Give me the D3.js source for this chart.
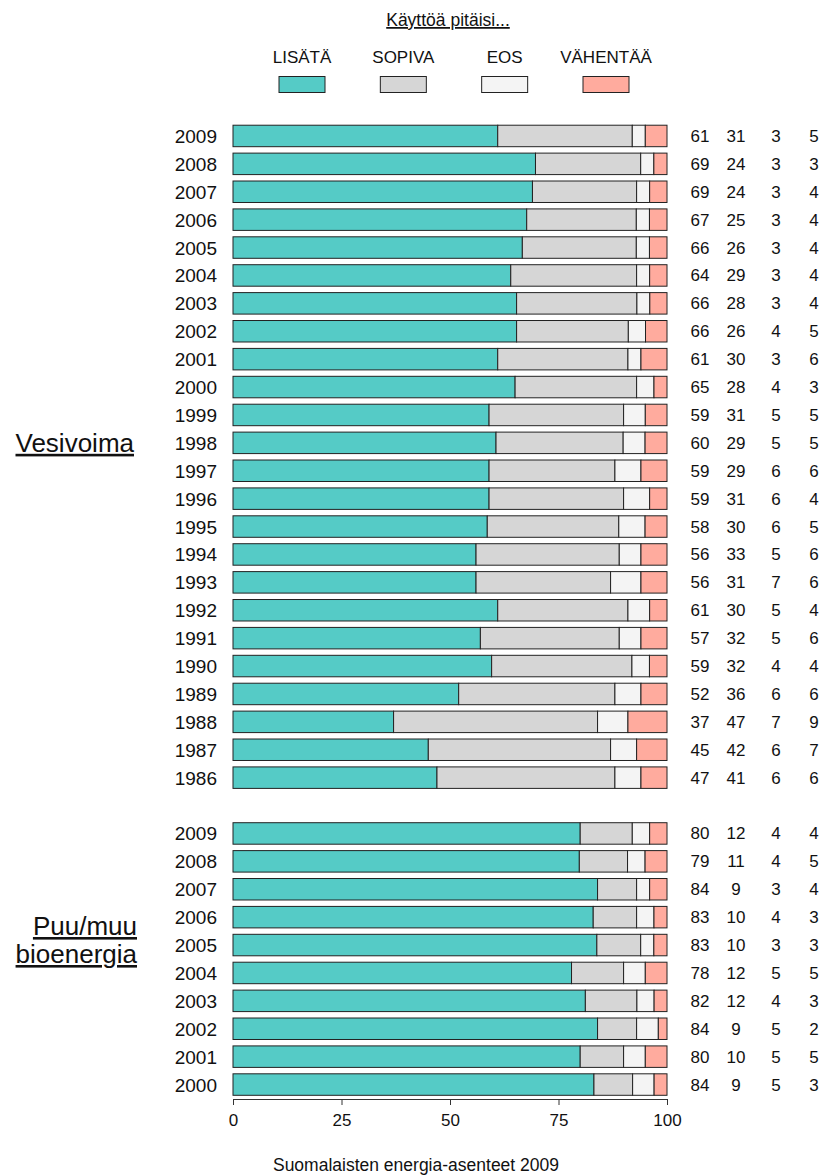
<!DOCTYPE html>
<html>
<head>
<meta charset="utf-8">
<script src="https://cdn.jsdelivr.net/npm/d3@7"></script>
<style>
  body { margin: 0; background: #fff; }
  svg text { font-family: "Liberation Sans", Arial, sans-serif; fill: #111; }
</style>
</head>
<body>
<svg id="chart" width="825" height="1175"></svg>
<script>
  // Käyttöä pitäisi... (LISÄTÄ, SOPIVA, EOS, VÄHENTÄÄ), %
  const series = ["LISÄTÄ", "SOPIVA", "EOS", "VÄHENTÄÄ"];
  const colors = ["#55cbc6", "#d6d6d6", "#f4f4f4", "#ffab9e"];

  const hydroYears = [2009, 2008, 2007, 2006, 2005, 2004, 2003, 2002, 2001, 2000, 1999, 1998,
    1997, 1996, 1995, 1994, 1993, 1992, 1991, 1990, 1989, 1988, 1987, 1986];
  const hydroLisata = [61, 69, 69, 67, 66, 64, 66, 66, 61, 65, 59, 60, 59, 59, 58, 56, 56, 61, 57, 59, 52, 37, 45, 47];
  const hydroSopiva = [31, 24, 24, 25, 26, 29, 28, 26, 30, 28, 31, 29, 29, 31, 30, 33, 31, 30, 32, 32, 36, 47, 42, 41];
  const hydroEos = [3, 3, 3, 3, 3, 3, 3, 4, 3, 4, 5, 5, 6, 6, 6, 5, 7, 5, 5, 4, 6, 7, 6, 6];
  const hydroVahentaa = [5, 3, 4, 4, 4, 4, 4, 5, 6, 3, 5, 5, 6, 4, 5, 6, 6, 4, 6, 4, 6, 9, 7, 6];

  const bioYears = [2009, 2008, 2007, 2006, 2005, 2004, 2003, 2002, 2001, 2000];
  const bioLisata = [80, 79, 84, 83, 83, 78, 82, 84, 80, 84];
  const bioSopiva = [12, 11, 9, 10, 10, 12, 12, 9, 10, 9];
  const bioEos = [4, 4, 3, 4, 3, 5, 4, 5, 5, 5];
  const bioVahentaa = [4, 5, 4, 3, 3, 5, 3, 2, 5, 3];

  const xTicks = [0, 25, 50, 75, 100];

  function rowsFor(prefix, years, cols) {
    return years.map((yr, i) => ({ key: prefix + yr, year: yr, vals: cols.map(c => c[i]) }));
  }
  const hydroRows = rowsFor("V", hydroYears, [hydroLisata, hydroSopiva, hydroEos, hydroVahentaa]);
  const bioRows = rowsFor("B", bioYears, [bioLisata, bioSopiva, bioEos, bioVahentaa]);
  const allRows = hydroRows.concat(bioRows);
  const domain = hydroRows.map(d => d.key).concat(["gap"], bioRows.map(d => d.key));

  const svg = d3.select("#chart");

  const x = d3.scaleLinear().domain([0, 100]).range([233, 667]);
  const y = d3.scaleBand().domain(domain).range([122, 1098.5])
    .paddingInner(0.23).paddingOuter(0.115);

  function txt(sel, px, py, s, size, anchor) {
    return sel.append("text")
      .attr("x", px).attr("y", py)
      .attr("text-anchor", anchor || "middle")
      .style("font-size", size + "px")
      .text(s);
  }

  // header + legend
  txt(svg, 448, 26, "Käyttöä pitäisi...", 17.5).style("text-decoration", "underline");
  const legendX = d3.scalePoint().domain(series).range([302, 606]);
  series.forEach((s, i) => {
    txt(svg, legendX(s), 63, s, 17);
    svg.append("rect")
      .attr("x", legendX(s) - 23).attr("y", 76.5)
      .attr("width", 46).attr("height", 16)
      .attr("fill", colors[i]).attr("stroke", "#222").attr("stroke-width", 1);
  });

  // bars
  const rowG = svg.selectAll("g.row").data(allRows).join("g").attr("class", "row");
  rowG.each(function (d) {
    const g = d3.select(this);
    const total = d3.sum(d.vals);
    let acc = 0;
    const segs = d.vals.map((v, i) => {
      const s = { i, x0: acc / total * 100, x1: (acc + v) / total * 100 };
      acc += v;
      return s;
    });
    g.selectAll("rect").data(segs).join("rect")
      .attr("x", s => x(s.x0))
      .attr("y", y(d.key))
      .attr("width", s => x(s.x1) - x(s.x0))
      .attr("height", y.bandwidth())
      .attr("fill", s => colors[s.i])
      .attr("stroke", "#222")
      .attr("stroke-width", 1);

    const cy = y(d.key) + y.bandwidth() / 2;
    txt(g, 217, cy + 7, d.year, 19, "end");
    [700, 736, 776, 814].forEach((cx, i) => txt(g, cx, cy + 6, d.vals[i], 17));
  });

  // group labels
  const hydroMid = d3.mean(hydroRows, d => y(d.key) + y.bandwidth() / 2);
  txt(svg, 134, hydroMid - 5, "Vesivoima", 26, "end").style("text-decoration", "underline");
  const bioMid = d3.mean(bioRows, d => y(d.key) + y.bandwidth() / 2);
  txt(svg, 137, bioMid - 24, "Puu/muu", 26, "end").style("text-decoration", "underline");
  txt(svg, 137, bioMid + 4, "bioenergia", 26, "end").style("text-decoration", "underline");

  // x axis
  const axisG = svg.append("g")
    .attr("transform", `translate(0,${y.range()[1] + 0.5})`)
    .call(d3.axisBottom(x).tickValues(xTicks).tickSize(6).tickPadding(9));
  axisG.select(".domain").attr("stroke", "#333");
  axisG.selectAll(".tick line").attr("stroke", "#333");
  axisG.selectAll(".tick text")
    .attr("font-family", null).attr("font-size", null)
    .style("font-size", "17px");

  txt(svg, 416, 1171, "Suomalaisten energia-asenteet 2009", 17.5);
</script>
</body>
</html>
